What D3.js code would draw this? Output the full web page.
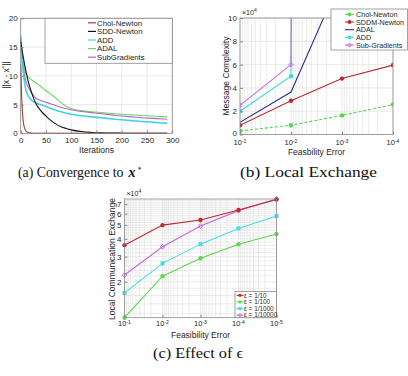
<!DOCTYPE html>
<html><head><meta charset="utf-8">
<script src="https://cdn.jsdelivr.net/npm/d3@7"></script>
<style>
body{margin:0;background:#fff}
svg{display:block}
text{font-family:"Liberation Sans Narrow","Liberation Sans",Arial,sans-serif;fill:#262626}
.cap{font-family:"Liberation Serif","DejaVu Serif",serif;fill:#111}
</style>
</head><body><svg id="c" width="408" height="376"></svg>
<script>
// ---------- Data: panel (a) Convergence ----------
const itersA = [0,2,4,6,8,10,15,20,25,30,40,50,60,70,80,90,100,120,140,160,180,200,220,240,260,280,290];
const cholA  = [12,6,3,1.5,0.8,0.45,0.12,0.03,0.01,0,0,0,0,0,0,0,0,0,0,0,0,0,0,0,0,0,0];
const sddA   = [16,15,13.8,12.8,11.8,11,9,7.5,6.2,5.2,3.9,3.0,2.2,1.6,1.15,0.85,0.6,0.3,0.15,0.07,0.03,0.02,0.01,0,0,0,0];
const addA   = [16.5,13.5,11.5,10,8.7,7.6,6.5,5.9,5.5,5.3,4.95,4.7,4.3,4.0,3.75,3.5,3.3,3.05,2.85,2.7,2.5,2.35,2.2,2.05,1.95,1.8,1.75];
const adalA  = [16.5,14.5,13,11.8,11,10.4,9.8,9.4,9.1,8.8,8.1,7.4,6.8,6.1,5.3,4.7,4.3,3.95,3.75,3.6,3.45,3.3,3.2,3.1,3.0,2.9,2.9];
const subA   = [17,14,12.3,11,10,9.2,8.0,7.2,6.6,6.1,5.7,5.4,5.1,4.8,4.5,4.3,4.1,3.8,3.6,3.4,3.2,3.0,2.85,2.7,2.6,2.5,2.45];
const namesA = ["Chol-Newton","SDD-Newton","ADD","ADAL","SubGradients"];
const colorsA = ["#a3383a","#111111","#3fd3dd","#6fd65f","#b565c8"];
const xTicksA = [0,50,100,150,200,250,300];
const yTicksA = [0,5,10,15,20];

// ---------- Data: panel (b) Local Exchange ----------
const errB = [1e-1,1e-2,1e-3,1e-4];
const cholB = [3100,7900,16400,25700];
const sddmB = [7900,29000,48000,59600];
const adalB = [10500,36400,136000,300000];
const addB  = [20000,50000,1e7,1e8];
const subB  = [25000,60000,1e7,1e8];
const namesB = ["Chol-Newton","SDDM-Newton","ADAL","ADD","Sub-Gradients"];
const colorsB = ["#4fd94a","#c0282d","#2b2f8f","#3fdede","#c06ad6"];
const yTicksB = [0,20000,40000,60000,80000,100000];

// ---------- Data: panel (c) Effect of epsilon ----------
const errC = [1e-1,1e-2,1e-3,1e-4,1e-5];
const eps10    = [36100,49900,54100,63600,75500];
const eps100   = [11200,21900,29200,36600,43200];
const eps1000  = [16700,26900,36700,47300,57700];
const eps10000 = [22300,35200,49100,63000,76000];
const namesC = ["\u03b5 = 1/10","\u03b5 = 1/100","\u03b5 = 1/1000","\u03b5 = 1/10000"];
const colorsC = ["#c0282d","#5fd64f","#45dede","#c56ae0"];
const yTicksC = [20000,30000,40000,50000,60000,70000];

const svg = d3.select('#c');
const gridCol = "#e3e3e3", boxCol = "#8a8a8a";

function pow10Label(sel, x, y, exp, anchor, fs) {
  const t = sel.append('text').attr('x', x).attr('y', y).attr('text-anchor', anchor||'middle').attr('font-size', fs||7.5);
  t.append('tspan').text('10');
  t.append('tspan').attr('dy', -2.5).attr('font-size', (fs||7.5)*0.68).text(exp);
  return t;
}

// ================= Panel (a) =================
{
  const x = d3.scaleLinear().domain([0,300]).range([20.7,172.3]);
  const y = d3.scaleLinear().domain([0,20]).range([133.3,18.3]);
  const g = svg.append('g');
  g.selectAll('.gx').data(xTicksA).join('line').attr('x1',d=>x(d)).attr('x2',d=>x(d)).attr('y1',y(0)).attr('y2',y(20)).attr('stroke',gridCol).attr('stroke-width',0.8);
  g.selectAll('.gy').data(yTicksA).join('line').attr('y1',d=>y(d)).attr('y2',d=>y(d)).attr('x1',x(0)).attr('x2',x(300)).attr('stroke',gridCol).attr('stroke-width',0.8);
  const series = [cholA, sddA, addA, adalA, subA];
  const order = [3,4,2,1,0];
  order.forEach(k => {
    const line = d3.line().x((d,i)=>x(itersA[i])).y(d=>y(d)).curve(d3.curveMonotoneX);
    g.append('path').attr('d', line(series[k])).attr('fill','none').attr('stroke',colorsA[k]).attr('stroke-width', k===2?1.6:1.1);
  });
  const ax = g.append('g').attr('transform',`translate(0,${y(0)})`).call(d3.axisBottom(x).tickValues(xTicksA).tickSize(-3).tickPadding(4));
  const ay = g.append('g').attr('transform',`translate(${x(0)},0)`).call(d3.axisLeft(y).tickValues(yTicksA).tickSize(-3).tickPadding(3));
  [ax,ay].forEach(a=>{a.select('.domain').remove(); a.selectAll('line').attr('stroke',boxCol); a.selectAll('text').attr('font-size',8).attr('fill','#262626').style('font-family','"Liberation Sans Narrow","Liberation Sans",Arial');});
  g.append('rect').attr('x',x(0)).attr('y',y(20)).attr('width',x(300)-x(0)).attr('height',y(0)-y(20)).attr('fill','none').attr('stroke',boxCol).attr('stroke-width',0.8);
  g.append('text').attr('x',(x(0)+x(300))/2).attr('y',153).attr('text-anchor','middle').attr('font-size',8.5).text('Iterations');
  const yl = g.append('text').attr('transform','translate(9,75) rotate(-90)').attr('text-anchor','middle').attr('font-size',8.5);
  yl.append('tspan').text('||x - x');
  yl.append('tspan').attr('dy',-3).attr('font-size',6).text('*');
  yl.append('tspan').attr('dy',3).text('||');
  // legend
  g.append('rect').attr('x',45).attr('y',18.3).attr('width',x(300)-45).attr('height',45).attr('fill','#fff').attr('stroke',boxCol).attr('stroke-width',0.8);
  namesA.forEach((n,i)=>{
    const yy = 22.8 + i*8.6;
    g.append('line').attr('x1',88).attr('x2',96).attr('y1',yy).attr('y2',yy).attr('stroke',colorsA[i]).attr('stroke-width',1.2);
    g.append('text').attr('x',97).attr('y',yy+2.8).attr('font-size',7.8).text(n);
  });
}

// ================= Panel (b) =================
{
  const x = d3.scaleLog().domain([1e-1,1e-4]).range([240,393]);
  const y = d3.scaleLinear().domain([0,100000]).range([134.5,18]);
  const g = svg.append('g');
  const clip = svg.append('clipPath').attr('id','clipB');
  clip.append('rect').attr('x',x(1e-1)).attr('y',y(100000)).attr('width',x(1e-4)-x(1e-1)).attr('height',y(0)-y(100000));
  const minor = x.ticks();
  g.selectAll('.gx').data(minor).join('line').attr('x1',d=>x(d)).attr('x2',d=>x(d)).attr('y1',y(0)).attr('y2',y(100000)).attr('stroke',gridCol).attr('stroke-width',0.7);
  g.selectAll('.gy').data(yTicksB).join('line').attr('y1',d=>y(d)).attr('y2',d=>y(d)).attr('x1',x(1e-1)).attr('x2',x(1e-4)).attr('stroke',gridCol).attr('stroke-width',0.8);
  const pg = g.append('g').attr('clip-path','url(#clipB)');
  const series = [cholB, sddmB, adalB, addB, subB];
  const line = d3.line().x((d,i)=>x(errB[i])).y(d=>y(d));
  [2,3,4,1,0].forEach(k=>{
    pg.append('path').attr('d',line(series[k])).attr('fill','none').attr('stroke',colorsB[k]).attr('stroke-width',1.1).attr('stroke-dasharray', k===0?'3,2':null);
  });
  function marker(sel, k, cx, cy, s) {
    const c = colorsB[k];
    if (k===0 || k===1) sel.append('circle').attr('cx',cx).attr('cy',cy).attr('r',s*0.55).attr('fill',c);
    else if (k===3) sel.append('rect').attr('x',cx-s/2).attr('y',cy-s/2).attr('width',s).attr('height',s).attr('fill',c);
    else if (k===4) sel.append('path').attr('d',`M${cx},${cy-s*0.6}L${cx+s*0.5},${cy}L${cx},${cy+s*0.6}L${cx-s*0.5},${cy}Z`).attr('fill','none').attr('stroke',c).attr('stroke-width',1);
  }
  [0,1,3,4].forEach(k=>{
    series[k].forEach((v,i)=>{ if (v<=100000) marker(pg, k, x(errB[i]), y(v), 4); });
  });
  const ay = g.append('g').attr('transform',`translate(${x(1e-1)},0)`).call(d3.axisLeft(y).tickValues(yTicksB).tickSize(-3).tickPadding(3).tickFormat(d=>d/10000));
  ay.select('.domain').remove(); ay.selectAll('line').attr('stroke',boxCol); ay.selectAll('text').attr('font-size',8).attr('fill','#262626').style('font-family','"Liberation Sans Narrow","Liberation Sans",Arial');
  ay.selectAll('text').filter(d=>d===0).attr('dy','0.1em');
  const ax = g.append('g').attr('transform',`translate(0,${y(0)})`).call(d3.axisBottom(x).tickValues(errB).tickSize(-3).tickFormat(''));
  ax.select('.domain').remove(); ax.selectAll('line').attr('stroke',boxCol);
  errB.forEach(v=> pow10Label(g, x(v), y(0)+10.5, String(Math.round(Math.log10(v))), 'middle', 7.5));
  g.append('rect').attr('x',x(1e-1)).attr('y',y(100000)).attr('width',x(1e-4)-x(1e-1)).attr('height',y(0)-y(100000)).attr('fill','none').attr('stroke',boxCol).attr('stroke-width',0.8);
  const mt = g.append('text').attr('x',x(1e-1)+2).attr('y',y(100000)-3).attr('font-size',7);
  mt.append('tspan').text('\u00d710'); mt.append('tspan').attr('dy',-3).attr('font-size',5).text('4');
  g.append('text').attr('x',(x(1e-1)+x(1e-4))/2).attr('y',155).attr('text-anchor','middle').attr('font-size',8.5).text('Feasbility Error');
  g.append('text').attr('transform','translate(229,76) rotate(-90)').attr('text-anchor','middle').attr('font-size',8.5).text('Message Complexity');
  // legend
  g.append('rect').attr('x',331).attr('y',9).attr('width',76.5).attr('height',41).attr('fill','#fff').attr('stroke',boxCol).attr('stroke-width',0.8);
  namesB.forEach((n,i)=>{
    const yy = 14.3 + i*7.7;
    g.append('line').attr('x1',345).attr('x2',354).attr('y1',yy).attr('y2',yy).attr('stroke',colorsB[i]).attr('stroke-width',1.1);
    marker(g, i, 349.5, yy, 3.5);
    g.append('text').attr('x',356).attr('y',yy+2.6).attr('font-size',7.2).text(n);
  });
}

// ================= Panel (c) =================
{
  const all = [].concat(eps10,eps100,eps1000,eps10000);
  const x = d3.scaleLog().domain([1e-1,1e-5]).range([124.5,276.5]);
  const y = d3.scaleLog().domain(d3.extent(all)).range([317.7,199]);
  const [y0,y1] = y.domain();
  const g = svg.append('g');
  const minorX = x.ticks();
  const minorY = d3.range(12000, 76000, 2000);
  g.selectAll('.gx').data(minorX).join('line').attr('x1',d=>x(d)).attr('x2',d=>x(d)).attr('y1',y(y0)).attr('y2',y(y1)).attr('stroke',gridCol).attr('stroke-width',0.7);
  g.selectAll('.gy').data(minorY).join('line').attr('y1',d=>y(d)).attr('y2',d=>y(d)).attr('x1',x(1e-1)).attr('x2',x(1e-5)).attr('stroke',gridCol).attr('stroke-width',0.7);
  const series = [eps10,eps100,eps1000,eps10000];
  const line = d3.line().x((d,i)=>x(errC[i])).y(d=>y(d));
  function marker(sel,k,cx,cy,s){
    const c = colorsC[k];
    if (k===0||k===1) sel.append('circle').attr('cx',cx).attr('cy',cy).attr('r',s*0.55).attr('fill',c);
    else if (k===2) sel.append('rect').attr('x',cx-s/2).attr('y',cy-s/2).attr('width',s).attr('height',s).attr('fill',c);
    else sel.append('path').attr('d',`M${cx},${cy-s*0.6}L${cx+s*0.55},${cy}L${cx},${cy+s*0.6}L${cx-s*0.55},${cy}Z`).attr('fill','none').attr('stroke',c).attr('stroke-width',1);
  }
  [1,2,3,0].forEach(k=>{
    g.append('path').attr('d',line(series[k])).attr('fill','none').attr('stroke',colorsC[k]).attr('stroke-width',1.1);
    series[k].forEach((v,i)=>marker(g,k,x(errC[i]),y(v),4));
  });
  const ay = g.append('g').attr('transform',`translate(${x(1e-1)},0)`).call(d3.axisLeft(y).tickValues(yTicksC).tickSize(-3).tickPadding(3).tickFormat(d=>d/10000));
  ay.select('.domain').remove(); ay.selectAll('line').attr('stroke',boxCol); ay.selectAll('text').attr('font-size',8).attr('fill','#262626').style('font-family','"Liberation Sans Narrow","Liberation Sans",Arial');
  const ax = g.append('g').attr('transform',`translate(0,${y(y0)})`).call(d3.axisBottom(x).tickValues(errC).tickSize(-3).tickFormat(''));
  ax.select('.domain').remove(); ax.selectAll('line').attr('stroke',boxCol);
  errC.forEach(v=> pow10Label(g, x(v), y(y0)+8.5, String(Math.round(Math.log10(v))), 'middle', 7.5));
  g.append('rect').attr('x',x(1e-1)).attr('y',y(y1)).attr('width',x(1e-5)-x(1e-1)).attr('height',y(y0)-y(y1)).attr('fill','none').attr('stroke',boxCol).attr('stroke-width',0.8);
  const mt = g.append('text').attr('x',x(1e-1)+2).attr('y',y(y1)-3).attr('font-size',7);
  mt.append('tspan').text('\u00d710'); mt.append('tspan').attr('dy',-3).attr('font-size',5).text('4');
  g.append('text').attr('x',(x(1e-1)+x(1e-5))/2).attr('y',337.5).attr('text-anchor','middle').attr('font-size',8.5).text('Feasibility Error');
  g.append('text').attr('transform','translate(115,259) rotate(-90)').attr('text-anchor','middle').attr('font-size',8.5).text('Local Communication Exchange');
  // legend
  g.append('rect').attr('x',235).attr('y',291.5).attr('width',x(1e-5)-235).attr('height',y(y0)-291.5).attr('fill','#fff').attr('stroke',boxCol).attr('stroke-width',0.8);
  namesC.forEach((n,i)=>{
    const yy = 295.3 + i*6.6;
    g.append('line').attr('x1',236.5).attr('x2',243.5).attr('y1',yy).attr('y2',yy).attr('stroke',colorsC[i]).attr('stroke-width',1.1);
    marker(g,i,240,yy,3);
    g.append('text').attr('x',244).attr('y',yy+2.3).attr('font-size',6.4).text(n);
  });
}

// ================= Captions =================
{
  const ca = svg.append('g').attr('transform','translate(18,177) scale(1,1.1)');
  ca.append('text').attr('class','cap').attr('x',0).attr('y',0).attr('font-size',13.8).text('(a) Convergence to');
  ca.append('text').attr('class','cap').attr('x',110.5).attr('y',0).attr('font-size',14)
    .attr('font-weight','bold').attr('font-style','italic').text('x');
  ca.append('text').attr('class','cap').attr('x',119.5).attr('y',-5.5).attr('font-size',8).text('\u22c6');
  svg.append('text').attr('class','cap').attr('x',240).attr('y',177).attr('font-size',15.5)
    .attr('textLength',137).attr('lengthAdjust','spacingAndGlyphs').text('(b) Local Exchange');
  svg.append('text').attr('class','cap').attr('x',153).attr('y',358).attr('font-size',15.5)
    .attr('textLength',90).attr('lengthAdjust','spacingAndGlyphs').text('(c) Effect of \u03f5');
}
</script>
</body></html>
